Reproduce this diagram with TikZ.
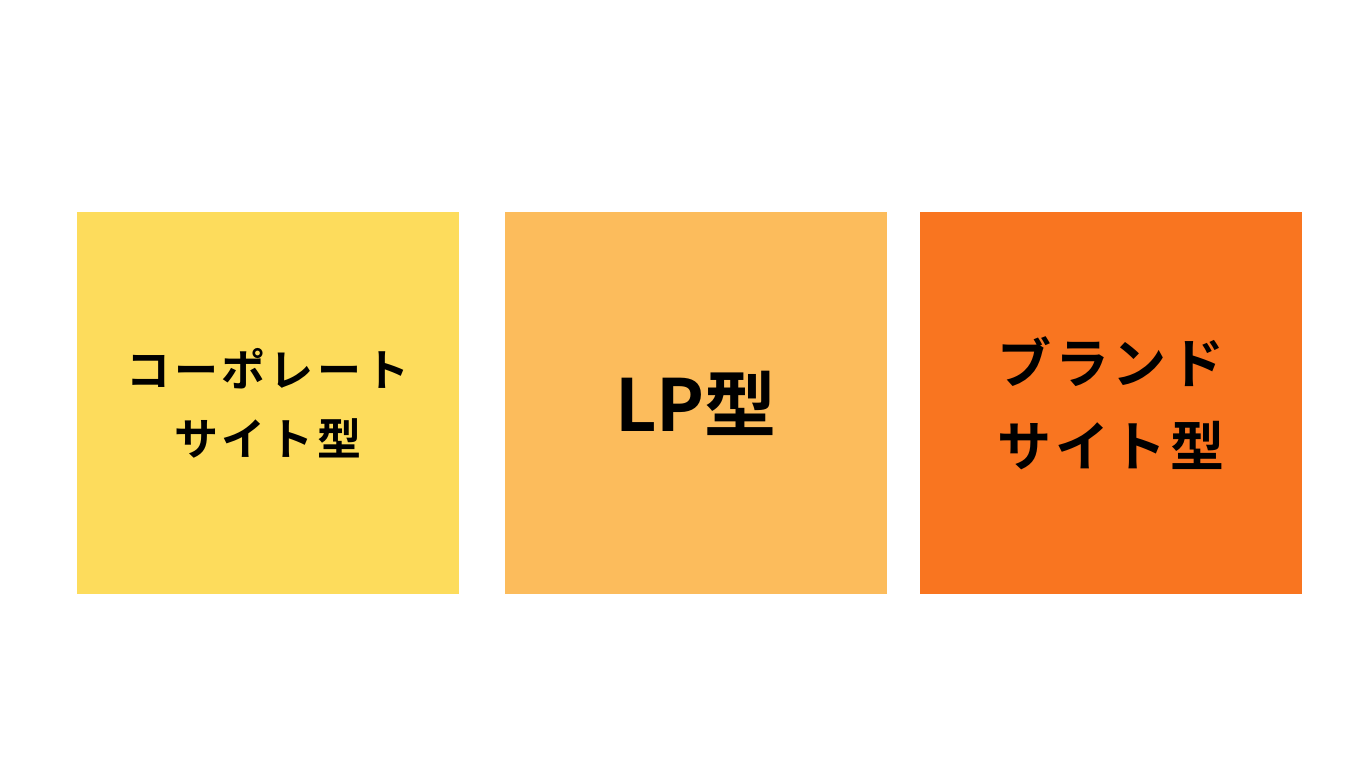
\documentclass[tikz,border=0pt]{standalone}
\usepackage{fontspec}
\newfontfamily\jp{Noto Sans CJK JP}[BoldFont={Noto Sans CJK JP Bold}]
\newfontfamily\jpsp{Noto Sans CJK JP}[BoldFont={Noto Sans CJK JP Bold},LetterSpace=7]
\newfontfamily\jpspw{Noto Sans CJK JP}[BoldFont={Noto Sans CJK JP Bold},LetterSpace=9]
\definecolor{cyellow}{HTML}{FDDC5C}
\definecolor{clorange}{HTML}{FCBC5C}
\definecolor{corange}{HTML}{F97520}
\tikzset{
  card/.style={draw=none, minimum width=382pt, minimum height=382pt, inner sep=0pt, align=center, text=black},
}
\begin{document}
\begin{tikzpicture}[x=1pt,y=-1pt]
\useasboundingbox[fill=white] (0,0) rectangle (1366,768);
\node[card, fill=cyellow, font={\jpspw\bfseries\fontsize{44pt}{69pt}\selectfont}] (corp) at (268,403) {コーポレート\\サイト型};
\node[card, fill=clorange, font={\jp\bfseries\fontsize{72pt}{80pt}\selectfont}] (lp) at (696,403) {LP型};
\node[card, fill=corange, font={\jpsp\bfseries\fontsize{54pt}{83pt}\selectfont}] (brand) at (1111,403) {ブランド\\サイト型};
\end{tikzpicture}
\end{document}
